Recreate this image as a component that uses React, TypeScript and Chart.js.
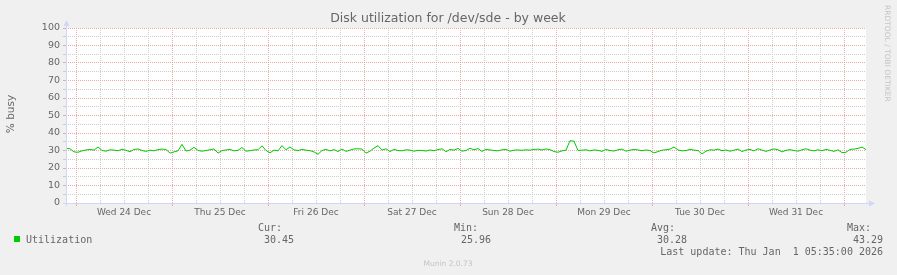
import React, { useEffect, useRef } from 'react';
import { Chart, registerables } from 'chart.js';

Chart.register(...registerables);

// ---------- data ----------
const TITLE = 'Disk utilization for /dev/sde - by week';
const Y_AXIS_LABEL = '% busy';
const WATERMARK = 'RRDTOOL / TOBI OETIKER';
const FOOTER = 'Munin 2.0.73';

// hours from the start of the graph (Tue 23 Dec 21:30) to the first midnight
const FIRST_MIDNIGHT_HOUR = 2.5;
const TOTAL_HOURS = 200;
const DAY_LABELS = [
  'Wed 24 Dec', 'Thu 25 Dec', 'Fri 26 Dec', 'Sat 27 Dec',
  'Sun 28 Dec', 'Mon 29 Dec', 'Tue 30 Dec', 'Wed 31 Dec',
];
const Y_TICKS = [0, 5, 10, 15, 20, 25, 30, 35, 40, 45, 50, 55, 60, 65, 70, 75, 80, 85, 90, 95, 100];

// hourly utilization (%), hour 0 = Tue 23 Dec 21:30
const UTILIZATION = [
  31.2, 31.0, 29.2, 29.0, 29.8, 30.3, 30.6, 30.2, 32.0, 30.0, 29.6, 30.4, 30.2, 29.9, 30.7, 30.1, 29.3, 30.6, 30.9, 30.0, 29.5, 30.2, 29.8, 30.5,
  30.8, 30.6, 28.5, 29.2, 29.8, 33.5, 29.7, 30.2, 31.8, 30.0, 29.6, 30.0, 30.4, 30.9, 28.5, 30.0, 30.3, 30.6, 29.8, 30.1, 31.7, 29.6, 29.9, 30.3,
  30.4, 32.7, 30.0, 28.7, 30.2, 29.8, 32.8, 30.4, 32.0, 30.3, 30.0, 30.6, 30.2, 29.9, 29.2, 27.8, 30.0, 30.6, 29.8, 30.5, 29.4, 30.8, 29.5, 30.2,
  30.9, 31.0, 30.8, 28.5, 29.6, 31.4, 32.8, 30.2, 31.0, 29.4, 30.6, 30.0, 29.8, 30.4, 30.2, 29.6, 30.1, 30.0, 29.7, 30.3, 29.9, 30.5, 31.0, 29.3,
  30.6, 30.2, 31.2, 29.6, 30.0, 31.3, 30.4, 31.1, 29.5, 30.6, 30.3, 30.0, 29.8, 30.4, 30.6, 29.6, 30.2, 30.3, 30.1, 30.4, 30.2, 30.6, 30.8, 30.3,
  30.9, 30.5, 29.4, 29.0, 29.8, 30.2, 35.6, 35.3, 30.0, 30.2, 30.4, 29.8, 30.3, 30.1, 29.5, 30.6, 30.0, 29.7, 30.4, 30.8, 29.6, 30.2, 30.6, 30.3,
  29.9, 30.3, 30.0, 28.6, 29.4, 30.2, 30.4, 30.8, 32.0, 30.3, 29.8, 30.0, 30.6, 30.2, 30.0, 28.0, 29.6, 30.4, 30.2, 30.8, 29.9, 30.3, 29.6, 30.2,
  30.8, 29.4, 30.3, 30.6, 29.8, 31.0, 30.2, 29.5, 30.3, 30.9, 30.4, 29.2, 30.1, 30.5, 30.0, 29.6, 30.4, 31.0, 30.2, 29.8, 30.4, 29.9, 30.6, 30.1,
  29.5, 30.4, 28.8, 29.0, 30.6, 30.8, 31.2, 32.0, 30.5,
];

const SERIES_NAME = 'Utilization';
const STAT_LABELS = ['Cur:', 'Min:', 'Avg:', 'Max:'];
const STAT_VALUES = ['30.45', '25.96', '30.28', '43.29'];
const LAST_UPDATE = 'Last update: Thu Jan  1 05:35:00 2026';

// ---------- styles ----------
const W = 897;
const H = 275;
const BG = '#f0f0f0';
const CANVAS_BG = '#ffffff';
const FONT_COLOR = '#666666';
const AXIS_COLOR = '#cfd6f8';
const MAJOR_GRID = '#eba9a9';
const MINOR_GRID = '#cdcdcd';
const LINE_COLOR = '#00cc00';
const SANS = '"DejaVu Sans", sans-serif';
const MONO = '"DejaVu Sans Mono", monospace';

const decorPlugin = {
  id: 'muninDecor',
  beforeDraw(chart: any) {
    const { ctx, chartArea } = chart;
    ctx.save();
    ctx.fillStyle = BG;
    ctx.fillRect(0, 0, W, H);
    ctx.fillStyle = CANVAS_BG;
    ctx.fillRect(chartArea.left, chartArea.top, chartArea.right - chartArea.left, chartArea.bottom - chartArea.top);
    ctx.restore();
  },
  afterDraw(chart: any) {
    const { ctx, chartArea } = chart;
    const L = chartArea.left;
    const B = chartArea.bottom;
    const R = chartArea.right;
    const T = chartArea.top;
    ctx.save();
    // axes
    ctx.strokeStyle = AXIS_COLOR;
    ctx.lineWidth = 1;
    ctx.setLineDash([]);
    ctx.beginPath();
    ctx.moveTo(L + 0.5, B + 3);
    ctx.lineTo(L + 0.5, T - 4);
    ctx.moveTo(L - 3, B + 0.5);
    ctx.lineTo(R + 5, B + 0.5);
    ctx.stroke();
    ctx.fillStyle = AXIS_COLOR;
    ctx.beginPath();
    ctx.moveTo(L + 0.5, T - 8);
    ctx.lineTo(L - 2.5, T - 2);
    ctx.lineTo(L + 3.5, T - 2);
    ctx.closePath();
    ctx.fill();
    ctx.beginPath();
    ctx.moveTo(R + 9, B + 0.5);
    ctx.lineTo(R + 3, B - 2.5);
    ctx.lineTo(R + 3, B + 3.5);
    ctx.closePath();
    ctx.fill();

    // title
    ctx.fillStyle = FONT_COLOR;
    ctx.font = `12.5px ${SANS}`;
    ctx.textAlign = 'center';
    ctx.textBaseline = 'middle';
    ctx.fillText(TITLE, 448, 19);

    // y-axis label
    ctx.save();
    ctx.translate(11, 114);
    ctx.rotate(-Math.PI / 2);
    ctx.font = `10.5px ${SANS}`;
    ctx.fillText(Y_AXIS_LABEL, 0, 0);
    ctx.restore();

    // watermark
    ctx.save();
    ctx.translate(887, 5);
    ctx.rotate(Math.PI / 2);
    ctx.font = `7.5px ${SANS}`;
    ctx.fillStyle = '#c4c4c4';
    ctx.textAlign = 'left';
    ctx.fillText(WATERMARK, 0, 0);
    ctx.restore();

    // legend
    ctx.fillStyle = LINE_COLOR;
    ctx.fillRect(14, 236, 6, 6);
    ctx.fillStyle = FONT_COLOR;
    ctx.font = `10px ${MONO}`;
    ctx.textAlign = 'left';
    ctx.fillText(SERIES_NAME, 26, 240);
    const labelRights = [282, 478, 675, 871];
    const valueRights = [294, 491, 687, 883];
    ctx.textAlign = 'right';
    STAT_LABELS.forEach((s, i) => ctx.fillText(s, labelRights[i], 228));
    STAT_VALUES.forEach((s, i) => ctx.fillText(s, valueRights[i], 240));
    ctx.fillText(LAST_UPDATE, 883, 252);

    // footer
    ctx.textAlign = 'center';
    ctx.fillStyle = '#c4c4c4';
    ctx.font = `7.5px ${SANS}`;
    ctx.fillText(FOOTER, 448, 264);
    ctx.restore();
  },
};

export default function App() {
  const ref = useRef<HTMLCanvasElement | null>(null);

  useEffect(() => {
    if (!ref.current) return;
    const points = UTILIZATION.map((v, i) => ({ x: i, y: v }));
    const xTickValues: number[] = [];
    for (let t = FIRST_MIDNIGHT_HOUR; t <= TOTAL_HOURS; t += 6) xTickValues.push(t);

    const chart = new Chart(ref.current, {
      type: 'line',
      data: {
        datasets: [
          {
            label: SERIES_NAME,
            data: points,
            borderColor: LINE_COLOR,
            borderWidth: 1,
            pointRadius: 0,
            tension: 0,
            fill: false,
          },
        ],
      },
      options: {
        animation: false,
        responsive: false,
        devicePixelRatio: 1,
        events: [],
        layout: { padding: { left: 0, top: 28, right: 31, bottom: 52 } },
        plugins: {
          legend: { display: false },
          title: { display: false },
          tooltip: { enabled: false },
        },
        scales: {
          x: {
            type: 'linear',
            min: 0,
            max: TOTAL_HOURS,
            afterBuildTicks: (scale: any) => {
              scale.ticks = xTickValues.map((v) => ({ value: v }));
            },
            afterFit: (scale: any) => {
              scale.height = 20;
            },
            ticks: {
              autoSkip: false,
              maxRotation: 0,
              minRotation: 0,
              padding: 1,
              color: FONT_COLOR,
              font: { family: SANS, size: 9 },
              callback: (_v: any, index: number) =>
                index % 4 === 2 ? DAY_LABELS[(index - 2) / 4] ?? '' : '',
            },
            grid: {
              color: (c: any) => (c.index % 4 === 0 ? MAJOR_GRID : MINOR_GRID),
              lineWidth: 1,
              drawTicks: true,
              tickLength: 3,
              tickColor: (c: any) => (c.index % 4 === 0 ? MAJOR_GRID : 'rgba(0,0,0,0)'),
            },
            border: { display: false, dash: [1, 1] },
          },
          y: {
            type: 'linear',
            min: 0,
            max: 100,
            afterBuildTicks: (scale: any) => {
              scale.ticks = Y_TICKS.map((v) => ({ value: v }));
            },
            afterFit: (scale: any) => {
              scale.width = 66;
            },
            ticks: {
              autoSkip: false,
              padding: 3,
              color: FONT_COLOR,
              font: { family: SANS, size: 9.5 },
              callback: (v: any) => (Number(v) % 10 === 0 ? String(v) : ''),
            },
            grid: {
              color: (c: any) => (c.tick && c.tick.value % 10 === 0 ? MAJOR_GRID : MINOR_GRID),
              lineWidth: 1,
              drawTicks: true,
              tickLength: 3,
              tickColor: (c: any) => (c.tick && c.tick.value % 10 === 0 ? MAJOR_GRID : MINOR_GRID),
            },
            border: { display: false, dash: [1, 1] },
          },
        },
      },
      plugins: [decorPlugin],
    } as any);
    return () => chart.destroy();
  }, []);

  return (
    <div style={{ position: 'absolute', left: 0, top: 0, width: W, height: H, background: BG }}>
      <canvas ref={ref} width={W} height={H} style={{ display: 'block', width: W, height: H }} />
    </div>
  );
}
